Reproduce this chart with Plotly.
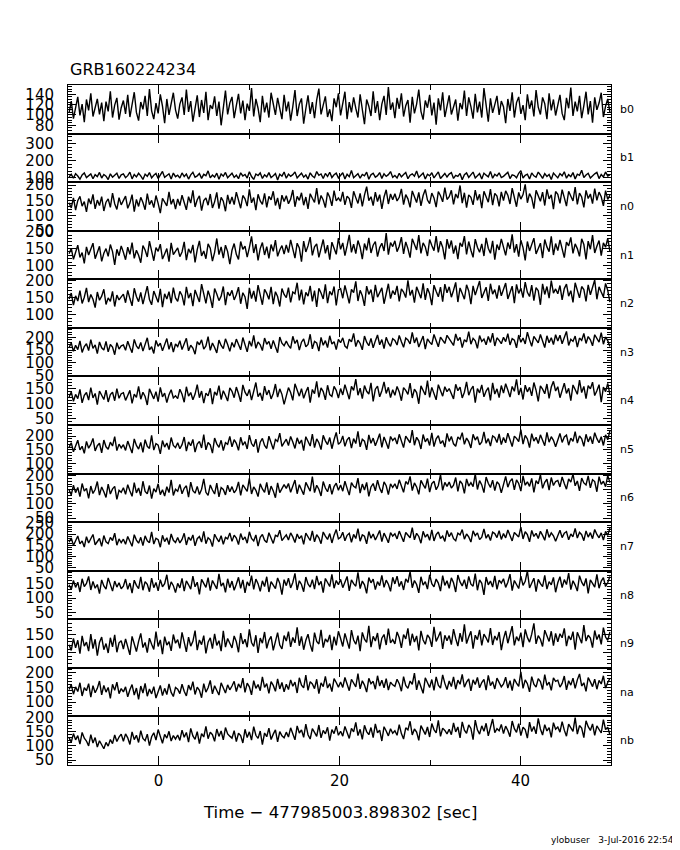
"""
GBM 검출기별 라이트커브 (GRB160224234)
"""
import numpy as np
import plotly.graph_objects as go
from plotly.subplots import make_subplots

TITLE = "GRB160224234"
X_TITLE = "Time \u2212 477985003.898302 [sec]"
FOOTER = "ylobuser\u00a0\u00a0\u00a03-Jul-2016 22:54"

T_START, T_STOP = -10.0, 50.0
BIN_WIDTH = 0.24

DETECTORS = ['b0', 'b1', 'n0', 'n1', 'n2', 'n3', 'n4',
             'n5', 'n6', 'n7', 'n8', 'n9', 'na', 'nb']

# y축 범위 / 눈금 간격
Y_RANGES = [[64, 158], [75, 360], [50, 210], [59, 203], [62, 203], [47, 237], [30, 190],
            [63, 241], [36, 207], [37, 254], [26, 195], [58, 192], [51, 217], [33, 203]]
Y_DTICK = [20, 100, 50, 50, 50, 50, 50, 50, 50, 50, 50, 50, 50, 50]
Y_MINOR = [5, 20, 10, 10, 10, 10, 10, 10, 10, 10, 10, 10, 10, 10]

# 계수율 (0.24 s 빈, -10 ~ 50 s, 한 줄 = 6 s)
b0 = [104, 127, 93, 118, 135, 99, 121, 86, 130, 109, 142, 97, 116, 131, 101, 124, 88, 126, 107, 146, 95, 119, 133, 91, 114,
      128, 102, 139, 96, 120, 144, 105, 89, 125, 111, 137, 98, 150, 108, 92, 123, 103, 140, 117, 84, 131, 100, 122, 143, 110,
      93, 121, 134, 100, 149, 106, 127, 87, 117, 138, 96, 129, 104, 145, 90, 119, 112, 136, 98, 126, 80, 115, 147, 101, 123,
      135, 94, 118, 141, 103, 128, 90, 122, 108, 152, 97, 131, 113, 86, 137, 105, 124, 95, 143, 118, 100, 133, 111, 92, 139,
      107, 126, 89, 116, 148, 98, 121, 132, 83, 112, 138, 102, 125, 94, 129, 151, 101, 119, 136, 96, 111, 88, 132, 115, 142,
      99, 122, 145, 92, 125, 105, 134, 113, 95, 140, 108, 82, 130, 117, 98, 146, 104, 127, 90, 121, 137, 100, 154, 110, 124,
      94, 133, 112, 142, 97, 118, 129, 85, 135, 103, 121, 149, 107, 91, 128, 114, 139, 99, 124, 81, 132, 109, 144, 96, 120,
      138, 101, 117, 130, 89, 123, 111, 147, 98, 134, 116, 93, 141, 105, 126, 95, 152, 113, 87, 132, 104, 120, 137, 100, 127,
      116, 84, 131, 108, 144, 95, 124, 135, 102, 119, 90, 140, 112, 128, 97, 148, 115, 101, 134, 122, 92, 142, 109, 130, 99,
      121, 139, 103, 90, 133, 113, 153, 98, 126, 107, 137, 94, 118, 145, 101, 127, 85, 134, 110, 123, 143, 96, 117, 131, 105]
b1 = [106, 121, 98, 125, 111, 92, 117, 129, 102, 114, 123, 95, 119, 108, 132, 99, 120, 110, 90, 124, 104, 116, 128, 97, 118,
      124, 101, 113, 134, 94, 120, 106, 127, 112, 91, 122, 109, 131, 100, 115, 126, 96, 119, 138, 103, 111, 124, 93, 128, 107,
      116, 99, 129, 108, 122, 93, 118, 133, 104, 112, 126, 97, 121, 113, 141, 100, 117, 105, 128, 92, 123, 110, 132, 101, 114,
      127, 103, 116, 95, 130, 111, 120, 99, 136, 108, 91, 123, 114, 129, 97, 118, 106, 131, 102, 113, 125, 88, 121, 110, 134,
      98, 122, 109, 119, 135, 100, 114, 127, 104, 117, 93, 130, 111, 101, 137, 115, 123, 96, 126, 108, 133, 102, 118, 128, 99,
      117, 130, 94, 121, 107, 143, 101, 115, 125, 98, 120, 112, 134, 92, 118, 127, 104, 113, 131, 97, 124, 109, 119, 137, 103,
      114, 99, 127, 106, 120, 132, 95, 116, 124, 110, 140, 102, 115, 128, 93, 121, 112, 130, 100, 118, 135, 96, 113, 126, 105,
      122, 131, 97, 115, 109, 126, 89, 119, 129, 103, 117, 134, 99, 114, 125, 94, 128, 116, 106, 138, 98, 121, 111, 130, 102,
      109, 123, 133, 96, 118, 114, 101, 127, 142, 99, 115, 122, 93, 129, 112, 104, 134, 117, 97, 125, 108, 120, 91, 128, 116,
      100, 125, 112, 136, 98, 119, 107, 131, 94, 122, 115, 145, 102, 117, 127, 99, 113, 124, 132, 96, 120, 106, 135, 111, 118]
n0 = [142, 125, 158, 118, 149, 163, 131, 146, 112, 156, 138, 170, 122, 151, 133, 162, 115, 144, 155, 127, 174, 139, 120, 159, 135,
      148, 164, 124, 141, 169, 113, 153, 130, 160, 143, 119, 172, 136, 150, 126, 166, 140, 108, 157, 145, 132, 178, 137, 154, 121,
      155, 133, 167, 146, 119, 162, 141, 183, 128, 152, 165, 116, 149, 158, 134, 171, 125, 145, 176, 123, 160, 147, 114, 168, 138,
      161, 136, 177, 150, 124, 166, 155, 131, 186, 142, 159, 118, 170, 148, 137, 173, 127, 163, 152, 180, 133, 158, 121, 167, 146,
      165, 139, 154, 184, 129, 163, 150, 175, 134, 161, 122, 172, 157, 143, 190, 137, 166, 151, 126, 176, 160, 132, 182, 148, 158,
      147, 178, 135, 164, 156, 125, 180, 159, 140, 173, 130, 167, 195, 149, 162, 133, 177, 146, 169, 122, 161, 185, 138, 171, 152,
      172, 148, 160, 188, 136, 169, 155, 127, 181, 163, 143, 176, 132, 166, 186, 151, 139, 174, 158, 128, 179, 165, 145, 192, 153,
      162, 183, 137, 171, 157, 199, 141, 175, 126, 168, 160, 135, 184, 150, 170, 124, 180, 161, 144, 187, 134, 173, 164, 130, 178,
      149, 181, 167, 138, 190, 160, 129, 176, 154, 169, 203, 142, 172, 158, 123, 183, 163, 147, 177, 133, 186, 155, 168, 121, 179,
      170, 140, 185, 159, 131, 180, 165, 148, 194, 137, 174, 161, 127, 183, 156, 171, 139, 189, 150, 177, 162, 132, 182, 153, 167]
n1 = [135, 151, 118, 143, 160, 124, 138, 106, 155, 131, 147, 166, 120, 140, 157, 112, 136, 150, 127, 162, 141, 102, 148, 129, 158,
      139, 117, 154, 133, 168, 121, 145, 130, 108, 159, 146, 125, 172, 137, 114, 153, 142, 163, 119, 134, 150, 111, 167, 132, 144,
      152, 126, 140, 170, 116, 149, 136, 161, 109, 147, 173, 128, 143, 120, 164, 151, 113, 139, 180, 132, 155, 122, 160, 141, 104,
      145, 165, 133, 118, 171, 148, 157, 125, 153, 186, 137, 163, 115, 150, 168, 131, 156, 121, 162, 142, 175, 127, 146, 159, 134,
      161, 138, 176, 149, 122, 166, 152, 111, 172, 140, 158, 184, 130, 155, 164, 124, 147, 177, 136, 160, 117, 169, 151, 133, 181,
      148, 167, 129, 158, 191, 139, 163, 135, 174, 154, 119, 165, 145, 182, 137, 160, 171, 126, 153, 166, 143, 196, 132, 168, 156,
      173, 141, 157, 184, 134, 170, 150, 123, 179, 162, 146, 190, 136, 167, 155, 128, 177, 159, 144, 187, 139, 172, 154, 118, 178,
      150, 174, 135, 159, 119, 167, 156, 187, 133, 171, 145, 124, 178, 154, 139, 164, 128, 182, 151, 136, 173, 117, 162, 146, 179,
      157, 130, 168, 149, 192, 138, 163, 126, 175, 153, 115, 171, 143, 161, 181, 134, 152, 166, 122, 177, 155, 141, 186, 131, 165,
      144, 176, 153, 123, 169, 158, 183, 136, 164, 150, 127, 179, 162, 118, 172, 148, 190, 137, 157, 174, 129, 167, 154, 180, 142]
n2 = [146, 163, 128, 155, 140, 170, 133, 151, 178, 137, 159, 145, 121, 166, 142, 154, 174, 130, 149, 139, 168, 124, 157, 143, 152,
      160, 135, 171, 147, 126, 177, 153, 138, 165, 131, 156, 183, 144, 129, 169, 150, 136, 175, 122, 161, 146, 167, 134, 179, 149,
      139, 168, 156, 127, 181, 148, 163, 125, 172, 152, 137, 189, 158, 133, 170, 150, 120, 176, 160, 141, 154, 182, 128, 166, 155,
      171, 143, 158, 180, 132, 164, 152, 117, 178, 147, 169, 138, 186, 157, 129, 174, 162, 145, 181, 131, 167, 153, 124, 176, 159,
      150, 179, 136, 166, 161, 193, 142, 173, 130, 165, 154, 184, 139, 170, 123, 177, 163, 146, 188, 134, 168, 157, 182, 127, 172,
      176, 148, 185, 160, 133, 174, 164, 197, 140, 171, 155, 126, 183, 159, 173, 137, 187, 151, 167, 178, 132, 165, 190, 147, 170,
      158, 184, 139, 175, 166, 150, 200, 156, 172, 135, 181, 163, 148, 191, 143, 177, 161, 128, 186, 168, 152, 180, 138, 189, 164,
      181, 151, 171, 194, 137, 178, 162, 145, 187, 169, 131, 184, 157, 176, 198, 149, 166, 180, 140, 190, 160, 173, 147, 185, 155,
      174, 192, 146, 168, 183, 134, 188, 162, 177, 150, 195, 165, 153, 186, 141, 179, 170, 129, 190, 159, 182, 148, 199, 163, 175,
      161, 185, 143, 176, 189, 154, 170, 136, 193, 167, 149, 182, 173, 139, 187, 158, 178, 201, 145, 181, 166, 152, 191, 171, 137]
n3 = [160, 178, 145, 169, 152, 186, 141, 164, 175, 148, 191, 157, 170, 136, 182, 159, 150, 184, 143, 172, 162, 132, 179, 154, 167,
      170, 149, 185, 161, 140, 192, 166, 155, 180, 146, 173, 198, 151, 163, 137, 188, 165, 177, 147, 168, 195, 153, 181, 142, 174,
      164, 187, 152, 176, 196, 147, 169, 158, 134, 183, 171, 190, 154, 166, 203, 149, 178, 160, 139, 189, 168, 156, 194, 172, 145,
      180, 161, 193, 170, 151, 199, 175, 143, 186, 165, 208, 157, 182, 171, 148, 197, 173, 184, 155, 188, 163, 140, 201, 177, 167,
      185, 168, 157, 204, 176, 190, 150, 181, 194, 163, 172, 212, 155, 184, 178, 146, 200, 169, 187, 160, 206, 174, 183, 152, 192,
      179, 198, 166, 158, 193, 182, 215, 164, 189, 176, 151, 205, 181, 167, 196, 159, 186, 209, 171, 191, 156, 200, 178, 165, 195,
      188, 170, 207, 183, 161, 197, 190, 174, 219, 178, 199, 162, 187, 205, 154, 194, 181, 172, 211, 185, 163, 201, 189, 176, 208,
      194, 177, 168, 213, 187, 200, 160, 191, 182, 222, 173, 196, 186, 157, 207, 184, 193, 171, 203, 180, 216, 166, 198, 188, 175,
      200, 183, 214, 170, 195, 189, 159, 209, 181, 197, 174, 220, 190, 165, 204, 193, 178, 211, 185, 160, 206, 179, 198, 172, 210,
      186, 208, 175, 199, 223, 168, 192, 184, 205, 162, 197, 188, 215, 176, 203, 190, 167, 210, 194, 181, 218, 173, 201, 187, 164]
n4 = [122, 139, 108, 131, 117, 147, 103, 128, 137, 112, 153, 119, 134, 97, 142, 125, 114, 145, 106, 130, 138, 110, 150, 118, 133,
      136, 111, 127, 144, 101, 132, 121, 157, 115, 138, 124, 96, 149, 129, 116, 140, 107, 154, 123, 135, 104, 130, 146, 119, 126,
      117, 148, 131, 105, 156, 125, 137, 113, 132, 163, 120, 142, 102, 135, 126, 151, 99, 139, 128, 160, 114, 143, 127, 109, 152,
      141, 120, 155, 133, 106, 162, 138, 126, 147, 112, 143, 170, 123, 136, 110, 158, 129, 145, 116, 134, 165, 122, 149, 131, 98,
      127, 153, 137, 111, 166, 142, 125, 150, 118, 139, 155, 104, 147, 133, 174, 121, 152, 140, 113, 161, 130, 124, 157, 144, 119,
      150, 129, 163, 138, 115, 157, 144, 181, 128, 151, 117, 160, 141, 132, 169, 108, 148, 158, 123, 143, 172, 134, 154, 120, 146,
      128, 157, 139, 110, 153, 144, 131, 168, 119, 148, 137, 100, 159, 141, 129, 176, 121, 154, 134, 113, 163, 145, 125, 156, 140,
      150, 130, 116, 164, 143, 155, 119, 138, 172, 128, 147, 158, 104, 150, 136, 162, 123, 142, 153, 111, 169, 132, 149, 120, 160,
      135, 166, 145, 122, 157, 141, 180, 129, 152, 114, 161, 139, 154, 126, 170, 144, 108, 159, 148, 133, 165, 118, 155, 174, 142,
      156, 120, 146, 168, 134, 151, 110, 162, 147, 131, 178, 137, 157, 117, 160, 149, 171, 127, 143, 163, 105, 155, 140, 167, 130]
n5 = [159, 176, 143, 168, 185, 150, 163, 137, 181, 156, 170, 192, 146, 165, 174, 139, 186, 161, 152, 178, 164, 198, 147, 171, 157,
      169, 148, 182, 160, 138, 190, 166, 153, 177, 141, 187, 163, 155, 203, 149, 173, 167, 135, 184, 160, 175, 151, 195, 166, 158,
      176, 154, 169, 197, 145, 179, 165, 188, 142, 171, 181, 157, 206, 150, 177, 168, 138, 193, 172, 159, 185, 147, 176, 170, 199,
      161, 187, 174, 148, 196, 167, 180, 153, 204, 173, 162, 189, 140, 178, 192, 166, 155, 200, 175, 152, 188, 181, 211, 163, 176,
      189, 166, 199, 179, 155, 194, 172, 186, 147, 198, 180, 164, 208, 158, 190, 176, 151, 203, 183, 169, 195, 154, 187, 214, 170,
      178, 201, 163, 187, 196, 156, 191, 173, 218, 161, 189, 182, 150, 205, 174, 193, 165, 186, 209, 159, 197, 177, 154, 199, 184,
      194, 171, 207, 185, 158, 200, 188, 176, 222, 167, 196, 183, 153, 206, 179, 192, 166, 212, 162, 190, 202, 173, 184, 160, 210,
      181, 199, 172, 163, 197, 189, 213, 170, 193, 180, 157, 207, 186, 198, 168, 179, 216, 174, 191, 164, 201, 195, 177, 208, 169,
      195, 176, 211, 188, 162, 200, 192, 180, 224, 171, 203, 190, 158, 209, 182, 196, 173, 205, 187, 165, 214, 178, 198, 185, 161,
      186, 210, 177, 197, 204, 167, 193, 181, 217, 175, 201, 190, 163, 207, 179, 199, 172, 213, 191, 176, 198, 166, 205, 187, 220]
n6 = [149, 132, 166, 140, 158, 126, 172, 145, 155, 120, 163, 137, 151, 179, 131, 160, 143, 123, 170, 135, 153, 162, 116, 148, 141,
      157, 134, 168, 146, 127, 175, 139, 156, 129, 180, 144, 136, 165, 119, 154, 142, 171, 133, 150, 128, 161, 140, 185, 130, 152,
      145, 169, 136, 155, 164, 124, 177, 147, 138, 162, 133, 152, 188, 141, 130, 167, 149, 135, 173, 125, 158, 151, 132, 166, 143,
      161, 139, 150, 178, 130, 167, 154, 144, 190, 135, 160, 148, 126, 171, 153, 141, 176, 132, 163, 146, 122, 174, 140, 157, 168,
      155, 172, 141, 163, 184, 136, 168, 150, 133, 176, 158, 145, 196, 140, 166, 152, 128, 179, 156, 143, 170, 134, 161, 173, 148,
      167, 145, 180, 155, 131, 175, 162, 157, 191, 138, 170, 149, 176, 127, 160, 172, 146, 184, 156, 139, 178, 164, 133, 171, 158,
      171, 153, 185, 164, 141, 179, 169, 197, 147, 174, 160, 134, 183, 168, 155, 189, 142, 172, 180, 150, 165, 203, 148, 176, 162,
      177, 156, 166, 193, 144, 181, 171, 137, 188, 163, 175, 161, 206, 151, 182, 167, 140, 195, 173, 158, 184, 147, 178, 169, 139,
      170, 197, 159, 180, 189, 150, 185, 172, 145, 199, 166, 178, 162, 190, 141, 182, 171, 203, 155, 176, 187, 149, 193, 165, 179,
      183, 160, 195, 172, 152, 188, 177, 205, 164, 181, 146, 191, 174, 167, 199, 157, 185, 179, 143, 196, 169, 180, 161, 200, 175]
n7 = [164, 183, 150, 175, 192, 157, 170, 143, 189, 161, 177, 199, 153, 168, 181, 146, 194, 166, 158, 186, 172, 205, 151, 179, 162,
      178, 155, 190, 169, 146, 198, 174, 160, 186, 149, 193, 171, 162, 210, 156, 182, 176, 142, 195, 167, 184, 154, 201, 173, 163,
      185, 161, 177, 204, 152, 187, 172, 197, 148, 180, 190, 165, 213, 158, 184, 175, 145, 200, 181, 166, 193, 155, 186, 179, 206,
      168, 196, 183, 154, 203, 175, 188, 160, 211, 181, 170, 197, 147, 186, 199, 173, 163, 207, 184, 159, 195, 190, 218, 171, 185,
      197, 174, 206, 188, 163, 201, 180, 194, 155, 205, 189, 172, 215, 166, 198, 184, 158, 210, 192, 177, 203, 161, 196, 221, 179,
      186, 209, 171, 195, 204, 164, 199, 181, 225, 169, 197, 191, 157, 212, 182, 201, 174, 194, 217, 167, 205, 185, 162, 207, 192,
      202, 179, 214, 193, 166, 208, 196, 184, 229, 175, 204, 190, 160, 213, 187, 200, 173, 219, 170, 198, 210, 181, 192, 168, 217,
      189, 207, 180, 171, 205, 197, 221, 178, 201, 188, 165, 215, 194, 206, 176, 187, 224, 182, 199, 172, 209, 203, 185, 216, 177,
      203, 184, 219, 196, 170, 208, 200, 188, 232, 179, 211, 198, 166, 217, 190, 204, 181, 213, 195, 173, 222, 186, 206, 193, 169,
      194, 218, 185, 205, 212, 175, 201, 189, 226, 183, 209, 198, 171, 215, 187, 207, 180, 221, 199, 184, 206, 174, 213, 195, 228]
n8 = [146, 129, 161, 137, 155, 121, 167, 140, 151, 175, 128, 158, 134, 147, 115, 163, 142, 131, 170, 150, 124, 159, 138, 153, 132,
      141, 166, 130, 152, 117, 162, 144, 133, 174, 127, 157, 148, 122, 169, 136, 154, 125, 164, 139, 150, 181, 129, 156, 143, 119,
      151, 135, 168, 124, 160, 146, 131, 176, 139, 155, 113, 165, 149, 137, 171, 126, 161, 144, 132, 184, 141, 153, 120, 167, 136,
      159, 127, 148, 172, 134, 163, 118, 156, 142, 178, 130, 166, 150, 123, 160, 140, 174, 121, 157, 145, 133, 170, 151, 112, 164,
      143, 169, 135, 154, 186, 128, 160, 147, 122, 173, 149, 138, 164, 131, 177, 145, 158, 119, 168, 152, 140, 182, 134, 161, 146,
      165, 136, 155, 175, 125, 163, 150, 141, 189, 133, 159, 146, 116, 171, 153, 166, 129, 157, 143, 179, 137, 162, 148, 123, 172,
      149, 176, 140, 158, 128, 167, 154, 192, 136, 161, 147, 118, 174, 145, 157, 131, 181, 150, 139, 166, 152, 124, 178, 144, 160,
      134, 170, 153, 121, 180, 156, 142, 164, 132, 175, 148, 141, 185, 127, 163, 151, 111, 173, 146, 159, 138, 177, 130, 162, 152,
      167, 137, 155, 183, 126, 161, 148, 133, 176, 144, 158, 194, 135, 152, 169, 122, 165, 150, 140, 179, 131, 157, 146, 172, 120,
      153, 174, 136, 164, 147, 187, 129, 160, 145, 124, 178, 155, 142, 168, 116, 163, 151, 138, 182, 134, 159, 171, 140, 154, 175]
n9 = [122, 106, 139, 113, 134, 97, 146, 118, 129, 104, 151, 111, 137, 92, 128, 143, 108, 125, 99, 141, 116, 149, 101, 127, 133,
      110, 138, 119, 94, 145, 124, 103, 131, 153, 114, 128, 100, 140, 123, 109, 158, 117, 135, 96, 144, 121, 130, 105, 150, 126,
      136, 112, 156, 125, 102, 143, 118, 131, 161, 107, 135, 122, 147, 98, 129, 141, 111, 152, 120, 133, 104, 160, 115, 139, 127,
      113, 146, 130, 101, 154, 124, 137, 115, 164, 128, 117, 148, 99, 140, 126, 157, 112, 134, 145, 106, 129, 155, 121, 110, 147,
      132, 158, 116, 142, 127, 170, 119, 145, 108, 134, 151, 122, 103, 155, 131, 124, 163, 114, 138, 129, 149, 107, 144, 120, 159,
      139, 117, 153, 130, 111, 162, 135, 123, 147, 104, 156, 137, 128, 174, 115, 145, 132, 154, 109, 140, 150, 121, 166, 127, 136,
      124, 157, 141, 113, 150, 138, 167, 119, 152, 129, 146, 106, 160, 135, 123, 149, 140, 116, 171, 131, 144, 158, 110, 148, 133,
      147, 122, 165, 139, 118, 154, 130, 178, 125, 143, 159, 111, 148, 136, 163, 120, 151, 141, 128, 168, 121, 146, 134, 157, 107,
      138, 160, 126, 149, 173, 120, 144, 132, 155, 115, 164, 142, 129, 151, 181, 124, 147, 137, 117, 162, 145, 131, 159, 119, 153,
      130, 152, 141, 167, 118, 146, 135, 158, 108, 156, 139, 126, 176, 132, 148, 140, 114, 161, 136, 150, 123, 169, 143, 134, 157]
na = [143, 160, 127, 152, 136, 166, 121, 149, 139, 163, 117, 156, 132, 147, 172, 125, 157, 134, 150, 113, 161, 140, 168, 129, 146,
      135, 152, 118, 142, 160, 124, 148, 109, 155, 131, 164, 120, 145, 128, 153, 114, 139, 157, 122, 147, 126, 162, 133, 119, 150,
      144, 129, 161, 137, 121, 158, 141, 170, 126, 151, 140, 115, 163, 134, 149, 174, 128, 156, 138, 124, 166, 146, 131, 159, 142,
      155, 171, 136, 162, 148, 182, 133, 165, 152, 125, 173, 147, 160, 139, 186, 150, 163, 130, 170, 157, 137, 179, 145, 167, 135,
      161, 143, 176, 154, 168, 131, 183, 158, 149, 192, 140, 170, 162, 146, 178, 129, 166, 153, 188, 148, 163, 136, 180, 167, 151,
      169, 150, 184, 160, 139, 178, 165, 152, 197, 145, 173, 158, 134, 181, 163, 171, 144, 190, 155, 175, 149, 180, 141, 168, 159,
      154, 178, 163, 137, 187, 157, 147, 172, 161, 199, 142, 174, 155, 130, 183, 166, 150, 177, 140, 186, 158, 148, 193, 164, 143,
      172, 153, 186, 144, 175, 161, 195, 151, 168, 179, 138, 176, 160, 184, 149, 167, 178, 141, 191, 156, 170, 145, 182, 164, 152,
      162, 185, 148, 173, 139, 179, 165, 154, 203, 147, 176, 163, 135, 187, 161, 151, 180, 170, 143, 194, 157, 168, 140, 183, 171,
      175, 151, 164, 189, 142, 173, 158, 182, 147, 176, 196, 155, 166, 137, 184, 169, 153, 178, 144, 174, 162, 190, 148, 167, 181]
nb = [128, 113, 143, 121, 136, 106, 147, 127, 117, 100, 139, 110, 129, 96, 118, 103, 90, 112, 99, 122, 108, 138, 115, 131, 141,
      116, 142, 128, 105, 149, 122, 137, 112, 153, 126, 118, 141, 101, 132, 146, 120, 157, 129, 109, 140, 127, 151, 117, 136, 124,
      138, 119, 155, 130, 147, 113, 161, 135, 123, 150, 108, 143, 131, 168, 125, 148, 139, 116, 159, 133, 152, 121, 164, 142, 134,
      127, 153, 115, 144, 136, 110, 158, 129, 149, 120, 167, 137, 126, 152, 104, 145, 132, 162, 122, 141, 156, 114, 150, 135, 128,
      148, 131, 163, 140, 121, 170, 145, 156, 130, 176, 139, 124, 160, 147, 133, 173, 128, 154, 142, 165, 118, 157, 143, 169, 137,
      151, 134, 168, 145, 126, 161, 149, 182, 136, 158, 123, 172, 150, 139, 164, 129, 177, 146, 155, 117, 167, 152, 135, 160, 144,
      153, 137, 174, 143, 124, 163, 156, 186, 138, 159, 148, 119, 171, 152, 140, 166, 131, 178, 157, 145, 189, 133, 162, 154, 142,
      158, 139, 180, 149, 166, 128, 184, 155, 144, 173, 161, 122, 190, 156, 141, 170, 151, 179, 135, 163, 194, 146, 160, 153, 175,
      143, 169, 154, 132, 187, 160, 147, 178, 136, 165, 157, 127, 183, 150, 168, 142, 196, 159, 138, 174, 152, 164, 130, 181, 158,
      166, 148, 185, 155, 134, 176, 161, 151, 199, 141, 171, 162, 129, 188, 167, 154, 177, 137, 170, 159, 145, 192, 157, 165, 139]

RATES = [b0, b1, n0, n1, n2, n3, n4, n5, n6, n7, n8, n9, na, nb]

FONT = "DejaVu Sans"

n_rows = len(DETECTORS)
time = np.arange(len(b0)) * BIN_WIDTH + T_START + BIN_WIDTH / 2

fig = make_subplots(rows=n_rows, cols=1, shared_xaxes=True, vertical_spacing=0)

for i, (det, rate) in enumerate(zip(DETECTORS, RATES)):
    row = i + 1
    fig.add_trace(go.Scatter(
        x=time, y=rate, mode='lines',
        line=dict(color='black', width=1.4),
        showlegend=False, hoverinfo='skip'
    ), row=row, col=1)

    fig.update_yaxes(
        range=Y_RANGES[i], dtick=Y_DTICK[i], tick0=0,
        ticks='inside', ticklen=8, tickwidth=1, tickcolor='black',
        minor=dict(dtick=Y_MINOR[i], ticklen=4, tickcolor='black', ticks='inside'),
        showline=True, linecolor='black', linewidth=1, mirror='ticks',
        showgrid=False, zeroline=False, automargin=False,
        ticklabelstandoff=10,
        tickfont=dict(family=FONT, size=15, color='black'),
        row=row, col=1
    )
    fig.update_xaxes(
        range=[T_START, T_STOP], dtick=20, tick0=0,
        ticks='inside', ticklen=9, tickwidth=1, tickcolor='black',
        minor=dict(dtick=10, ticklen=5, tickcolor='black', ticks='inside'),
        showline=True, linecolor='black', linewidth=1, mirror='ticks',
        showgrid=False, zeroline=False, automargin=False,
        ticklabelstandoff=2,
        tickfont=dict(family=FONT, size=15, color='black'),
        row=row, col=1
    )

    # 검출기 이름 (오른쪽)
    yref = 'y domain' if row == 1 else f'y{row} domain'
    fig.add_annotation(
        text=det, xref='paper', yref=yref, x=1.012, y=0.5,
        xanchor='left', yanchor='middle', showarrow=False,
        font=dict(family=FONT, size=11, color='black')
    )

fig.add_annotation(
    text=TITLE, xref='paper', yref='paper', x=0, y=1.0, yshift=4,
    xanchor='left', yanchor='bottom', showarrow=False,
    font=dict(family=FONT, size=16, color='black')
)
fig.add_annotation(
    text=X_TITLE, xref='paper', yref='paper', x=0.5, y=0, yshift=-36,
    xanchor='center', yanchor='top', showarrow=False,
    font=dict(family=FONT, size=16.5, color='black')
)
fig.add_annotation(
    text=FOOTER, xref='paper', yref='paper', x=1.12, y=0, yshift=-68,
    xanchor='right', yanchor='top', showarrow=False,
    font=dict(family=FONT, size=9, color='black')
)

# 페이지 기본 여백(8px)을 감안한 크기/여백
fig.update_layout(
    width=672, height=842,
    margin=dict(l=60, r=69, t=77, b=85),
    paper_bgcolor='white', plot_bgcolor='white',
    showlegend=False
)

fig.write_html("out.html")
